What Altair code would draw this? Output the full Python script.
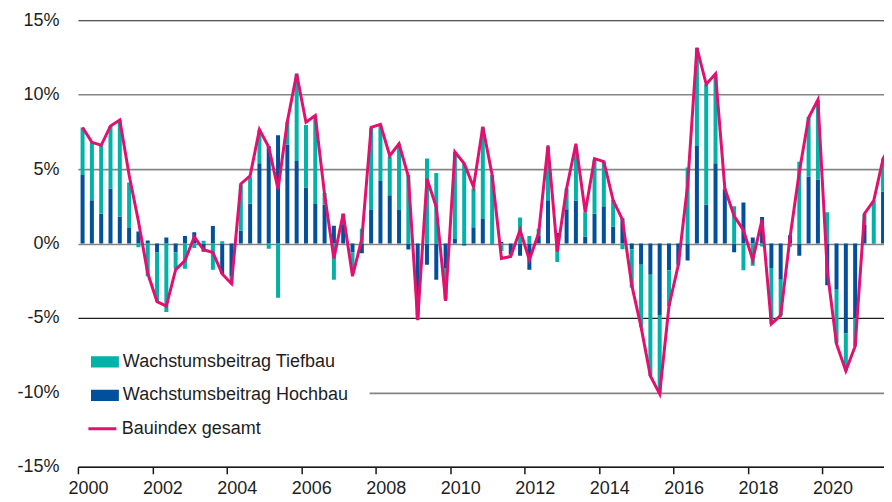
import altair as alt
import pandas as pd

# Quarterly growth contributions (in %), 2000Q1 .. 2021Q4
hochbau = [4.6, 2.9, 2.0, 3.7, 1.8, 1.05, 0.8, 0.2,
           -0.6, 0.4, -0.6, 0.5, 0.75, -0.55, 1.18, -2.05,
           -2.2, 0.87, 2.67, 5.4, 6.55, 7.28, 6.66, 5.55,
           3.76, 2.65, 2.6, 1.2, 1.3, -0.6, -0.65, 2.25,
           4.2, 3.25, 2.25, -0.4, -4.8, -1.43, -2.43, -1.65,
           0.3, -0.13, 1.1, 1.65, -0.05, 0.1, -0.76, -0.83,
           -1.76, 0.5, 2.9, 0.7, 2.3, 2.87, 0.47, 2.0,
           2.5, 1.14, 1.7, -0.38, -1.43, -2.1, -4.8, -1.8,
           -1.43, -1.14, 6.55, 2.6, 5.4, 3.6, -0.58, 2.75,
           0.4, 1.78, -1.65, -2.43, 0.55, -0.83, 4.5, 4.3,
           -2.8, -3.1, -6.05, -5.0, 1.25, 0.03, 3.5, 5.5]
tiefbau = [3.2, 3.9, 4.6, 4.2, 6.5, 3.05, -0.25, -2.2,
           -3.3, -4.6, -1.1, -1.7, -0.3, 0.18, -1.76, 0.15,
           -0.5, 3.1, 1.8, 2.25, -0.36, -3.65, 1.5, 5.85,
           4.2, 5.95, 0.8, -2.43, 0.7, -1.2, 1.0, 5.5,
           3.8, 2.6, 4.45, 4.6, -0.3, 5.72, 4.74, -2.1,
           5.85, 5.4, 2.6, 6.15, 4.6, -0.5, 0.0, 1.74,
           0.5, 0.5, 3.6, -1.25, 1.4, 3.6, 1.63, 3.65,
           3.0, 1.8, -0.38, -2.6, -4.2, -6.8, -5.3, -2.4,
           -0.05, 5.1, 6.6, 8.1, 6.0, 0.1, 2.5, -1.8,
           -1.5, -0.2, -3.75, -2.4, -0.22, 5.5, 4.0, 5.35,
           2.1, -3.6, -2.5, -1.9, 0.75, 2.85, 2.2, 1.3]
gesamt = [7.8, 6.8, 6.6, 7.9, 8.3, 4.6, 1.5, -2.0,
          -3.9, -4.2, -1.75, -1.15, 0.45, -0.42, -0.6, -2.05,
          -2.7, 4.0, 4.55, 7.65, 6.48, 3.65, 8.2, 11.4,
          8.15, 8.6, 3.3, -1.0, 2.0, -2.2, 0.3, 7.8,
          8.0, 5.9, 6.7, 4.5, -5.15, 4.35, 2.45, -3.85,
          6.15, 5.37, 3.8, 7.85, 4.6, -1.0, -0.87, 0.9,
          -1.1, 0.7, 6.6, -0.54, 3.7, 6.7, 2.1, 5.7,
          5.5, 2.9, 1.6, -2.8, -5.6, -8.9, -10.1, -4.2,
          -1.45, 3.9, 13.15, 10.7, 11.4, 3.7, 1.85, 0.9,
          -1.1, 1.6, -5.4, -4.83, 0.4, 4.8, 8.45, 9.65,
          -1.8, -6.75, -8.55, -6.9, 2.0, 2.88, 5.7, 6.8]

first_year = 2000
year_ticks = list(range(2000, 2022))
y_ticks = [-15, -10, -5, 0, 5, 10, 15]

name_tief = "Wachstumsbeitrag Tiefbau"
name_hoch = "Wachstumsbeitrag Hochbau"
name_ges = "Bauindex gesamt"

n = len(gesamt)
t = [first_year + i // 4 + ((i % 4) + 0.5) / 4 for i in range(n)]

bars = pd.DataFrame({
    "t": t * 2,
    "value": hochbau + tiefbau,
    "series": [name_hoch] * n + [name_tief] * n,
    "ord": [0] * n + [1] * n,
})
line = pd.DataFrame({"t": t, "value": gesamt, "series": [name_ges] * n})

FONT = "Liberation Sans"
TXT = "#1e1e1e"

x_scale = alt.Scale(domain=[2000, 2021.65], nice=False, zero=False, padding=0)
y_scale = alt.Scale(domain=[-15, 15], nice=False, zero=False, padding=0)

x_axis = alt.Axis(
    values=year_ticks, title=None, grid=False,
    labelExpr="datum.value % 2 == 0 ? toString(datum.value) : ''",
    labelFlush=False, labelOverlap=False, labelOffset=10,
    domainColor="#1a1a1a", domainWidth=1.5, tickColor="#1a1a1a", tickWidth=1.5,
    tickSize=7, labelPadding=6, labelFontSize=18, labelFont=FONT, labelColor=TXT,
)
y_axis = alt.Axis(
    values=y_ticks, title=None, domain=False, ticks=False, grid=True,
    gridColor={"condition": {"test": "datum.value === 15 || datum.value === -5", "value": "#1e1e1e"}, "value": "#858585"},
    gridWidth={"condition": {"test": "datum.value === 15 || datum.value === -5", "value": 1.2}, "value": 1.6},
    labelExpr="datum.value + '%'", labelPadding=19,
    labelFontSize=18, labelFont=FONT, labelColor=TXT,
)

bar_chart = alt.Chart(bars).mark_bar(size=4, clip=True).encode(
    x=alt.X("t:Q", scale=x_scale, axis=x_axis),
    y=alt.Y("value:Q", scale=y_scale, axis=y_axis, stack="zero"),
    color=alt.Color(
        "series:N",
        scale=alt.Scale(domain=[name_tief, name_hoch], range=["#00b2a8", "#00509b"]),
        legend=alt.Legend(
            title=None, orient="none", legendX=-7, legendY=313, padding=20,
            fillColor="white", strokeColor="white",
            symbolType="M-1,-0.4H1V0.4H-1Z", symbolSize=784, symbolStrokeWidth=0,
            clipHeight=18, rowPadding=15.5, labelOffset=4,
            labelFontSize=18, labelFont=FONT, labelColor=TXT, labelLimit=400,
        ),
    ),
    order=alt.Order("ord:Q"),
)

line_chart = alt.Chart(line).mark_line(strokeWidth=3, clip=True).encode(
    x=alt.X("t:Q", scale=x_scale),
    y=alt.Y("value:Q", scale=y_scale),
    color=alt.Color(
        "series:N",
        scale=alt.Scale(domain=[name_ges], range=["#e2106f"]),
        legend=alt.Legend(
            title=None, orient="none", legendX=9, legendY=400, padding=0,
            symbolType="stroke", symbolSize=784, symbolStrokeWidth=3,
            clipHeight=18, labelOffset=4,
            labelFontSize=18, labelFont=FONT, labelColor=TXT, labelLimit=400,
        ),
    ),
)

chart = alt.layer(bar_chart, line_chart).resolve_scale(color="independent").properties(
    width=807, height=447,
    padding={"left": 8, "top": 3, "right": 0, "bottom": 0},
).configure_view(stroke=None)

chart.save("out.html", embed_options={"renderer": "svg", "actions": False})
